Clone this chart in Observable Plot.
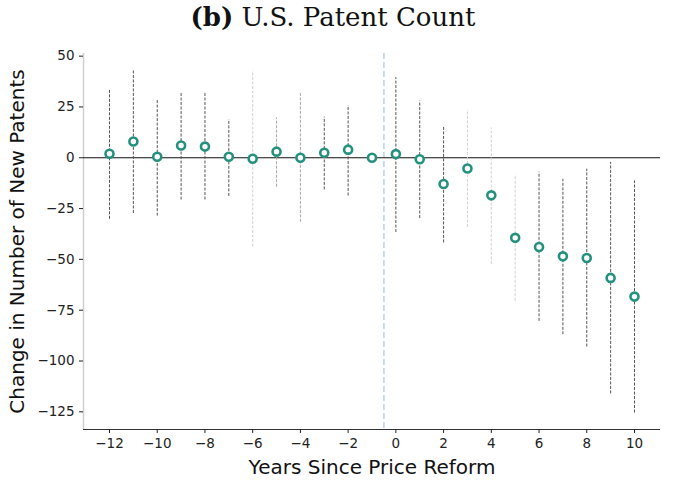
<!DOCTYPE html>
<html>
<head>
<meta charset="utf-8">
<script src="https://cdn.jsdelivr.net/npm/d3@7"></script>
<script src="https://cdn.jsdelivr.net/npm/@observablehq/plot@0.6"></script>
<style>
  html, body { margin: 0; padding: 0; background: #fff; }
  #title { width: 666px; padding-right: 8px; height: 36px; line-height: 34px; text-align: center;
           font-family: "DejaVu Serif", "Liberation Serif", serif; font-size: 26px; color: #111; }
  #title b { font-weight: bold; }
  #chart svg { display: block; font-family: "DejaVu Sans", sans-serif; }
</style>
</head>
<body>
<div id="title"><b>(b)</b> U.S. Patent Count</div>
<div id="chart"></div>
<script>
// Event-study data
const years    = [-12, -11, -10, -9, -8, -7, -6, -5, -4, -3, -2, -1, 0, 1, 2, 3, 4, 5, 6, 7, 8, 9, 10];
const estimate = [2, 8, 0.5, 6, 5.5, 0.5, -0.5, 3, 0, 2.5, 4, 0, 1.8, -0.7, -12.9, -5.3, -18.5, -39.4, -43.9, -48.5, -49.3, -59.1, -68.3];
const ciLow    = [-30.3, -27.4, -28.7, -20.8, -20.8, -19, -43.9, -14.5, -31.8, -15.8, -18.8, null, -36.8, -29.9, -41.9, -34.3, -52.5, -70.6, -80.5, -87.1, -93.1, -116.2, -125.6];
const ciHigh   = [33.7, 43, 28.7, 32.3, 32, 18.8, 42.7, 19.6, 32, 20, 25.7, null, 39.4, 27.9, 15.2, 23.4, 14.7, -8.4, -7.1, -10.6, -5.6, -2.3, -11.4];
const ciShade  = ["dark","dark","dark","dark","dark","dark","faint","mid","mid","dark","dark",null,"dark","dark","dark","faint","faint","faint","dark","dark","dark","dark","dark"];
const yTicks   = [50, 25, 0, -25, -50, -75, -100, -125];
const xTicks   = [-12, -10, -8, -6, -4, -2, 0, 2, 4, 6, 8, 10];
const reformLine = -0.5;
const xLabel = "Years Since Price Reform";
const yLabel = "Change in Number of New Patents";

const rows = years.map((y, i) => ({year: y, est: estimate[i], lo: ciLow[i], hi: ciHigh[i], shade: ciShade[i]}));
const ciRows = rows.filter(d => d.lo != null);

const xDom = [-13.09, 11.09];
const yDom = [-133.7, 51.3];

const chart = Plot.plot({
  width: 674,
  height: 446,
  marginLeft: 83,
  marginRight: 14,
  marginTop: 17,
  marginBottom: 53,
  x: {domain: xDom, label: null},
  y: {domain: yDom, label: null},
  color: {domain: ["dark", "mid", "faint"], range: ["#555555", "#a8a8a8", "#d2d2d2"]},
  marks: [
    Plot.ruleX([xDom[0]], {stroke: "#cfcfcf", strokeWidth: 1.5}),
    Plot.ruleY([yDom[0]], {stroke: "#333", strokeWidth: 1.2}),
    Plot.ruleX([reformLine], {stroke: "#a9cbe3", strokeWidth: 1.3, strokeDasharray: "6,3"}),
    Plot.ruleY([0], {stroke: "#111", strokeWidth: 1.2}),
    Plot.ruleX(ciRows, {x: "year", y1: "lo", y2: "hi", stroke: "shade", strokeWidth: 1, strokeDasharray: "3,1.5"}),
    Plot.dot(rows, {x: "year", y: "est", r: 4, stroke: "#24917f", strokeWidth: 2.6, fill: "white"}),
    Plot.axisY({ticks: yTicks, tickSize: 4, tickPadding: 5, fontSize: 13.5, label: null, stroke: "#222", color: "#222"}),
    Plot.axisX({ticks: xTicks, tickSize: 4, tickPadding: 5, fontSize: 13.5, label: null, stroke: "#222", color: "#222"}),
    Plot.text([yLabel], {frameAnchor: "left", textAnchor: "middle", lineAnchor: "middle", rotate: -90, dx: -66, fontSize: 20, fill: "#111", text: d => d}),
    Plot.text([xLabel], {frameAnchor: "bottom", textAnchor: "middle", lineAnchor: "middle", dy: 38, fontSize: 20, fill: "#111", text: d => d})
  ]
});
document.getElementById("chart").appendChild(chart);
</script>
</body>
</html>
